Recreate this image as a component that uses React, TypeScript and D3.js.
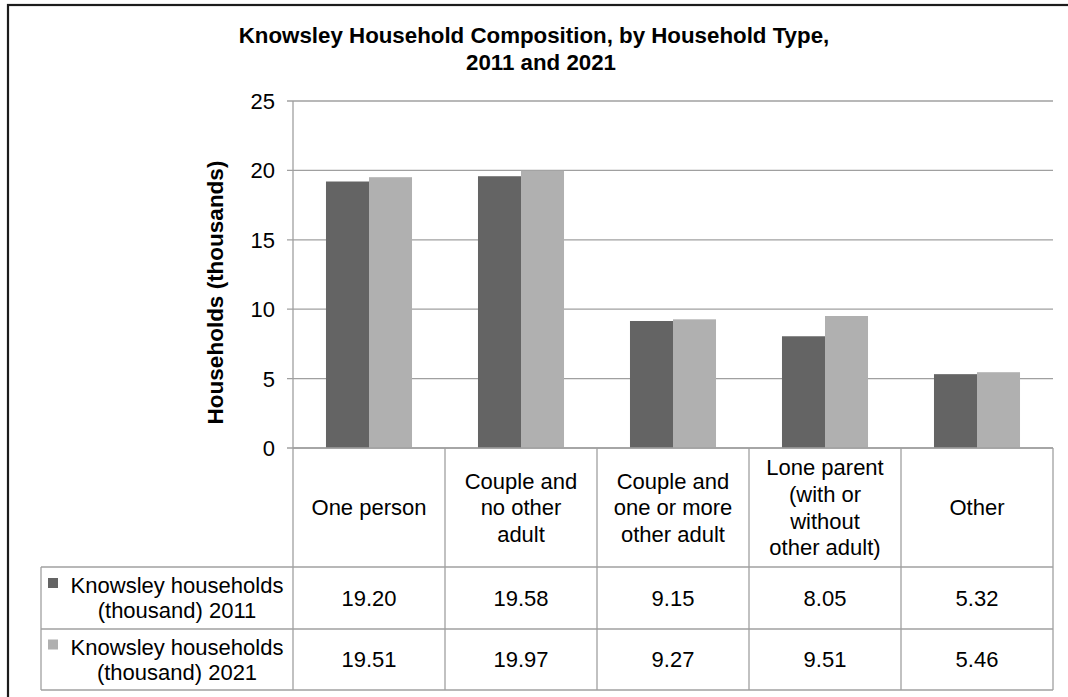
import React from "react";
import * as d3 from "d3";

const categories: string[][] = [
  ["One person"],
  ["Couple and", "no other", "adult"],
  ["Couple and", "one or more", "other adult"],
  ["Lone parent", "(with or", "without", "other adult)"],
  ["Other"],
];
const values2011: number[] = [19.2, 19.58, 9.15, 8.05, 5.32];
const values2021: number[] = [19.51, 19.97, 9.27, 9.51, 5.46];
const seriesNames: string[][] = [
  ["Knowsley households", "(thousand) 2011"],
  ["Knowsley households", "(thousand) 2021"],
];
const seriesColors: string[] = ["#646464", "#b0b0b0"];
const yTicks: number[] = [0, 5, 10, 15, 20, 25];
const titleLines: string[] = [
  "Knowsley Household Composition, by Household Type,",
  "2011 and 2021",
];
const yAxisTitle = "Households (thousands)";

const W = 1068;
const H = 697;
const FONT = "'Liberation Sans', Arial, sans-serif";

export default function App() {
  const left = 293;
  const right = 1053;
  const top = 101;
  const bottom = 448;
  const catRowBottom = 567;
  const row1Bottom = 629;
  const row2Bottom = 690;
  const legendLeft = 41;

  const y = d3.scaleLinear().domain([0, 25]).range([bottom, top]);
  const x = d3
    .scaleBand<number>()
    .domain(d3.range(categories.length))
    .range([left, right])
    .paddingInner(0.434)
    .paddingOuter(0.217);
  const step = x.step();
  const xs = d3
    .scaleBand<number>()
    .domain([0, 1])
    .range([0, x.bandwidth()]);

  const series = [values2011, values2021];
  const rowTops = [catRowBottom, row1Bottom];
  const rowBottoms = [row1Bottom, row2Bottom];
  const lineH = 26.7;
  const fs = 22;
  const grid = "#a0a0a0";

  return (
    <svg
      width={W}
      height={H}
      style={{ position: "absolute", left: 0, top: 0, background: "#fff" }}
      fontFamily={FONT}
    >
      <rect x={0} y={0} width={W} height={H} fill="#fff" />
      {/* outer frame */}
      <rect x={8} y={5} width={W + 20} height={H + 20} fill="none" stroke="#1c1c1c" strokeWidth={2.2} />

      {/* title */}
      <text x={534} y={43} textAnchor="middle" fontSize={22.3} fontWeight="bold" fill="#000">
        {titleLines[0]}
      </text>
      <text x={541} y={70} textAnchor="middle" fontSize={22.3} fontWeight="bold" fill="#000">
        {titleLines[1]}
      </text>

      {/* gridlines and ticks */}
      {yTicks.map((t) => (
        <g key={t}>
          <line x1={left - 6} x2={right} y1={y(t)} y2={y(t)} stroke={grid} strokeWidth={1.3} />
          <text x={275} y={y(t)} dy="0.36em" textAnchor="end" fontSize={fs} fill="#000">
            {t}
          </text>
        </g>
      ))}
      <line x1={left} x2={left} y1={top} y2={row2Bottom} stroke={grid} strokeWidth={1.3} />

      {/* y-axis title */}
      <text
        transform={`translate(${223},${(top + bottom) / 2 + 18}) rotate(-90)`}
        textAnchor="middle"
        fontSize={22.5}
        fontWeight="bold"
        fill="#000"
      >
        {yAxisTitle}
      </text>

      {/* bars */}
      {series.map((vals, s) =>
        vals.map((v, i) => (
          <rect
            key={`${s}-${i}`}
            x={(x(i) as number) + (xs(s) as number)}
            y={y(v)}
            width={xs.bandwidth()}
            height={y(0) - y(v)}
            fill={seriesColors[s]}
          />
        ))
      )}

      {/* data table */}
      <g stroke={grid} strokeWidth={1.3}>
        <line x1={left} x2={right} y1={bottom} y2={bottom} />
        <line x1={legendLeft} x2={right} y1={catRowBottom} y2={catRowBottom} />
        <line x1={legendLeft} x2={right} y1={row1Bottom} y2={row1Bottom} />
        <line x1={legendLeft} x2={right} y1={row2Bottom} y2={row2Bottom} />
        <line x1={legendLeft} x2={legendLeft} y1={catRowBottom} y2={row2Bottom} />
        {categories.map((_, i) => (
          <line
            key={i}
            x1={left + step * (i + 1)}
            x2={left + step * (i + 1)}
            y1={bottom}
            y2={row2Bottom}
          />
        ))}
      </g>

      {categories.map((lines, i) => {
        const cx = (x(i) as number) + x.bandwidth() / 2;
        const cy = (bottom + catRowBottom) / 2;
        const first = cy - ((lines.length - 1) * lineH) / 2;
        return (
          <text key={i} x={cx} textAnchor="middle" fontSize={fs} fill="#000">
            {lines.map((l, k) => (
              <tspan key={k} x={cx} y={first + k * lineH} dy="0.36em">
                {l}
              </tspan>
            ))}
          </text>
        );
      })}

      {series.map((vals, s) => {
        const cy = (rowTops[s] + rowBottoms[s]) / 2;
        return (
          <g key={s}>
            <rect x={48} y={cy - 20} width={10} height={10} fill={seriesColors[s]} />
            <text textAnchor="middle" fontSize={fs} fill="#000">
              {seriesNames[s].map((l, k) => (
                <tspan key={k} x={177} y={cy - 12.5 + k * 25} dy="0.36em">
                  {l}
                </tspan>
              ))}
            </text>
            {vals.map((v, i) => (
              <text
                key={i}
                x={(x(i) as number) + x.bandwidth() / 2}
                y={cy}
                dy="0.36em"
                textAnchor="middle"
                fontSize={fs}
                fill="#000"
              >
                {v.toFixed(2)}
              </text>
            ))}
          </g>
        );
      })}
    </svg>
  );
}
